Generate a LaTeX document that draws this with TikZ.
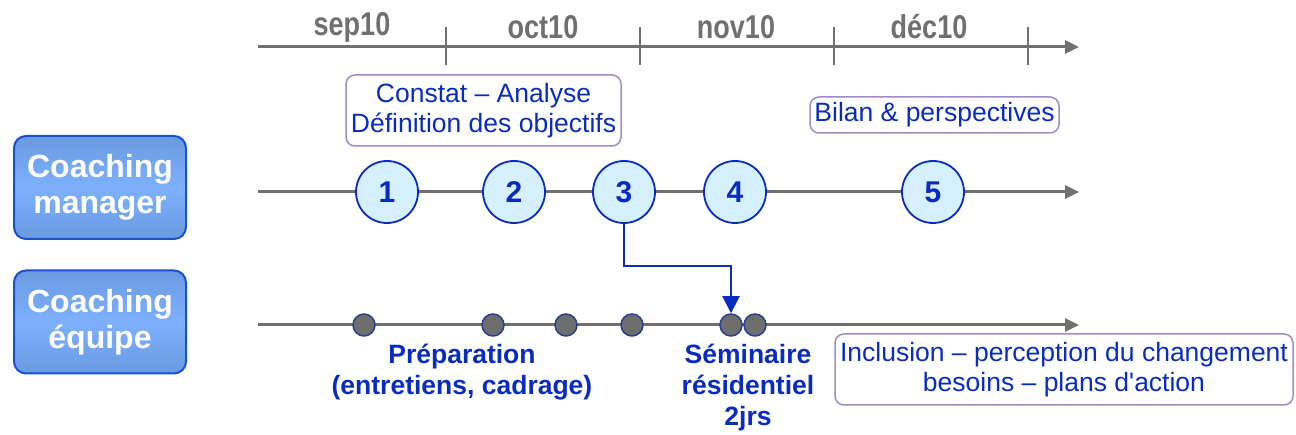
\documentclass[tikz,border=0pt]{standalone}
\usepackage{fontspec}
\setmainfont{Liberation Sans}
\newfontfamily\nolig{Liberation Sans}[Ligatures=Common]
\usetikzlibrary{arrows.meta,shadings}
\definecolor{axisgrey}{HTML}{707070}
\definecolor{txtblue}{HTML}{0A2BC0}
\definecolor{circfill}{HTML}{D6F0FF}
\definecolor{boxline}{HTML}{A08CC8}
\definecolor{lblue}{HTML}{6A9BE0}
\definecolor{mblue}{HTML}{7DB0FF}
\definecolor{bblue}{HTML}{1A50D0}
\definecolor{dotgrey}{HTML}{6E6E6E}
\definecolor{dotline}{HTML}{2B3F8F}
\tikzset{
  axisline/.style={draw=axisgrey, line width=3pt, -{Triangle[length=14pt,width=13pt]}},
  tickline/.style={draw=axisgrey, line width=1.3pt},
  month/.style={text=axisgrey, font=\fontsize{30}{32}\selectfont\bfseries, xscale=0.9, yscale=1.1},
  rowbox/.style={draw=bblue, line width=2pt, rounded corners=12pt, top color=lblue, bottom color=lblue, middle color=mblue, minimum width=172pt, minimum height=103pt, text=white, align=center, font=\fontsize{32}{36}\selectfont\bfseries, inner sep=0pt},
  stepcirc/.style={circle, draw=txtblue, line width=1.8pt, fill=circfill, minimum size=62pt, inner sep=0pt, text=txtblue, font=\fontsize{30}{32}\selectfont\bfseries},
  dotnode/.style={circle, draw=dotline, line width=1.5pt, fill=dotgrey, minimum size=22pt, inner sep=0pt},
  notebox/.style={draw=boxline, line width=1.5pt, rounded corners=9pt, text=txtblue, align=center, font=\fontsize{26.5}{30}\selectfont, inner sep=0pt},
  lbl/.style={text=txtblue, align=center, font=\fontsize{26.5}{31}\selectfont\bfseries},
  link/.style={draw=txtblue, line width=2pt, -{Triangle[length=17pt,width=17pt]}}
}
\begin{document}
\begin{tikzpicture}[x=1pt,y=-1pt]
\useasboundingbox (0,0) rectangle (1296,435);
% top axis
\coordinate (t0) at (258,47);
\coordinate (t1) at (1079,47);
\draw[axisline] (t0) -- (t1);
\foreach \x in {446,640,834,1028}{\draw[tickline] (\x,27) -- (\x,65);}
\node[month] (m1) at (352,27) {sep10};
\node[month] (m2) at (543,27) {oct10};
\node[month] (m3) at (736,27) {nov10};
\node[month] (m4) at (929,27) {déc10};
% row boxes
\node[rowbox] (r1) at (100,187.5) {Coaching\\manager};
\node[rowbox] (r2) at (100,322) {Coaching\\équipe};
% middle axis
\coordinate (a0) at (258,192);
\coordinate (a1) at (1079,192);
\draw[axisline] (a0) -- (a1);
\node[stepcirc] (c1) at (387,192) {1};
\node[stepcirc] (c2) at (514,192) {2};
\node[stepcirc] (c3) at (624,192) {3};
\node[stepcirc] (c4) at (735,192) {4};
\node[stepcirc] (c5) at (933,192) {5};
% notes
\node[notebox, minimum width=275pt, minimum height=71pt] (n1) at (483.5,110.5) {Constat – Analyse\\Définition des objectifs};
\node[notebox, minimum width=249pt, minimum height=36pt] (n2) at (934.5,115) {Bilan \& perspectives};
% bottom axis
\coordinate (b0) at (258,325);
\coordinate (b1) at (1079,325);
\draw[axisline] (b0) -- (b1);
\node[dotnode] (d1) at (364,325) {};
\node[dotnode] (d2) at (493,325) {};
\node[dotnode] (d3) at (566,325) {};
\node[dotnode] (d4) at (632,325) {};
\node[dotnode] (d5) at (731,325) {};
\node[dotnode] (d6) at (755,325) {};
% link
\draw[link] (c3.south) |- (731,266) -- (d5.north);
% labels
\node[lbl] (l1) at (462,372) {Préparation\\(entretiens, cadrage)};
\node[lbl] (l2) at (748,388) {Séminaire\\résidentiel\\2jrs};
\node[notebox, minimum width=458pt, minimum height=71pt] (n3) at (1064,369.5) {Inclusion – perception du changement\\besoins – plans d{\nolig'}action};
\end{tikzpicture}
\end{document}
